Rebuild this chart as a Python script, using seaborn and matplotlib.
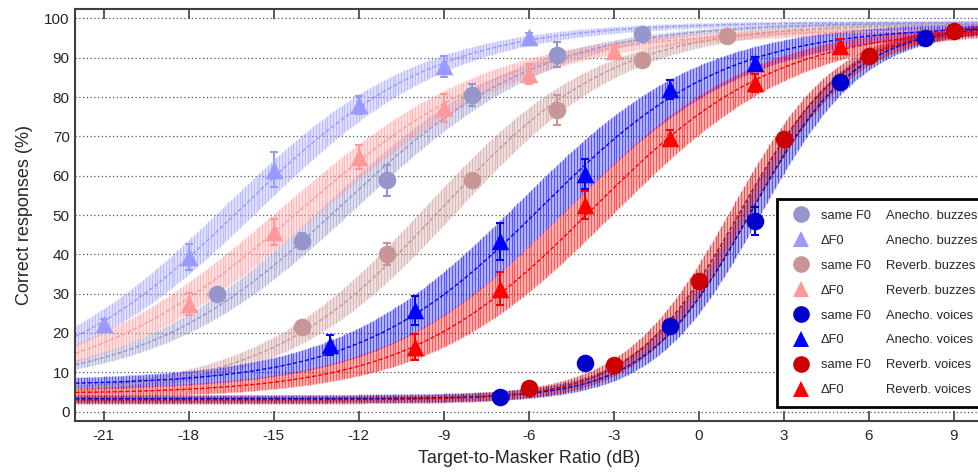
import numpy as np
import pandas as pd
import matplotlib
matplotlib.use('Agg')
import matplotlib.pyplot as plt
import seaborn as sns
from matplotlib.lines import Line2D

sns.set_theme(style='white')
plt.rcParams['font.family'] = ['Liberation Sans', 'DejaVu Sans']
plt.rcParams['axes.unicode_minus'] = False

# ---------------------------------------------------------------
# 조건 (범례 순서)
# ---------------------------------------------------------------
f0_labels = ['same F0', 'ΔF0', 'same F0', 'ΔF0', 'same F0', 'ΔF0', 'same F0', 'ΔF0']
cond_labels = ['Anecho. buzzes', 'Anecho. buzzes', 'Reverb. buzzes', 'Reverb. buzzes',
               'Anecho. voices', 'Anecho. voices', 'Reverb. voices', 'Reverb. voices']
colors = ['#9696cc', '#9999ff', '#c89696', '#ff9999',
          '#0000cc', '#0000ff', '#cc0000', '#ff0000']
markers = ['o', '^', 'o', '^', 'o', '^', 'o', '^']

# 측정값 (TMR dB, 정답률 %, 오차)
x_same_ab = [-17, -14, -11, -8, -5, -2]
y_same_ab = [29.9, 43.3, 58.8, 80.6, 90.8, 95.9]
e_same_ab = [1.2, 2.0, 4.0, 2.8, 3.2, 1.0]

x_df0_ab = [-21, -18, -15, -12, -9, -6]
y_df0_ab = [22.3, 39.3, 61.5, 78.0, 87.8, 95.3]
e_df0_ab = [1.2, 3.4, 4.5, 2.2, 2.7, 1.0]

x_same_rb = [-14, -11, -8, -5, -2, 1]
y_same_rb = [21.4, 40.1, 59.0, 76.8, 89.5, 95.6]
e_same_rb = [1.2, 2.8, 1.2, 3.8, 1.2, 1.0]

x_df0_rb = [-18, -15, -12, -9, -6, -3]
y_df0_rb = [27.4, 45.7, 64.8, 77.2, 85.8, 91.7]
e_df0_rb = [2.8, 3.3, 3.0, 3.5, 2.5, 1.5]

x_same_av = [-7, -4, -1, 2, 5, 8]
y_same_av = [3.6, 12.3, 21.7, 48.4, 83.9, 95.1]
e_same_av = [1.0, 1.0, 1.0, 3.6, 1.2, 1.0]

x_df0_av = [-13, -10, -7, -4, -1, 2]
y_df0_av = [17.0, 25.8, 43.3, 60.5, 82.0, 88.6]
e_df0_av = [2.6, 3.7, 4.7, 3.8, 2.4, 1.5]

x_same_rv = [-6, -3, 0, 3, 6, 9]
y_same_rv = [6.0, 11.9, 33.2, 69.2, 90.3, 96.8]
e_same_rv = [1.0, 1.0, 1.0, 1.0, 1.0, 1.0]

x_df0_rv = [-10, -7, -4, -1, 2, 5]
y_df0_rv = [16.5, 31.3, 52.6, 69.7, 83.6, 93.0]
e_df0_rv = [3.3, 4.2, 3.6, 2.0, 2.2, 1.8]

xs_points = [x_same_ab, x_df0_ab, x_same_rb, x_df0_rb, x_same_av, x_df0_av, x_same_rv, x_df0_rv]
ys_points = [y_same_ab, y_df0_ab, y_same_rb, y_df0_rb, y_same_av, y_df0_av, y_same_rv, y_df0_rv]
es_points = [e_same_ab, e_df0_ab, e_same_rb, e_df0_rb, e_same_av, e_df0_av, e_same_rv, e_df0_rv]

# 로지스틱 적합 파라미터 (그림에서 추정)
fit_floor = [6.0, 5.0, 4.5, 5.0, 3.3, 6.7, 3.0, 4.5]
fit_top = [99.0, 99.0, 98.5, 97.0, 98.3, 98.0, 98.0, 98.0]
fit_mid = [-12.6, -16.1, -9.1, -14.1, 1.85, -5.5, 1.44, -3.79]
fit_width = [3.5, 3.4, 3.05, 3.73, 1.85, 3.22, 1.88, 3.28]
# 신뢰대역 (수평 이동 dB, 수직 여유 %)
band_shift = [0.55, 0.6, 0.55, 0.65, 0.3, 0.8, 0.3, 0.75]
band_pad = [0.3, 0.5, 0.6, 0.8, 1.0, 1.3, 1.0, 1.1]


def psychometric(x, floor, top, mid, width):
    return floor + (top - floor) / (1 + np.exp(-(x - mid) / width))


fig = plt.figure(figsize=(9.79, 4.73), dpi=100)
ax = fig.add_axes([75.3 / 979, 52.3 / 473, 906.7 / 979, 411.4 / 473])

tmr = np.arange(-22, 10.001, 0.1)
for i in range(8):
    col = colors[i]
    yc = psychometric(tmr, fit_floor[i], fit_top[i], fit_mid[i], fit_width[i])
    ylo = psychometric(tmr, fit_floor[i], fit_top[i], fit_mid[i] + band_shift[i], fit_width[i]) - band_pad[i]
    yhi = psychometric(tmr, fit_floor[i], fit_top[i], fit_mid[i] - band_shift[i], fit_width[i]) + band_pad[i]
    ax.fill_between(tmr, ylo, yhi, color=col, alpha=0.25, lw=0, zorder=1)
    ax.vlines(tmr, ylo, yhi, color=col, alpha=0.55, lw=0.9, zorder=1.5)
    curve = pd.DataFrame({'tmr': tmr, 'pc': yc})
    sns.lineplot(data=curve, x='tmr', y='pc', color=col, lw=1.0,
                 linestyle=(0, (3, 1.5)), ax=ax, zorder=2)

for i in range(8):
    col = colors[i]
    ax.errorbar(xs_points[i], ys_points[i], yerr=es_points[i], fmt='none',
                ecolor=col, elinewidth=1.5, capsize=3.2, capthick=1.5, zorder=3)
    pts = pd.DataFrame({'tmr': xs_points[i], 'pc': ys_points[i]})
    sns.scatterplot(data=pts, x='tmr', y='pc', color=col, marker=markers[i],
                    s=160, linewidth=0, ax=ax, zorder=4)

ax.set_xlim(-22, 10)
ax.set_ylim(-2.3, 102.3)
ax.set_xticks(np.arange(-21, 10, 3))
ax.set_yticks(np.arange(0, 101, 10))
ax.grid(axis='y', color='#555555', linestyle=(0, (1, 2)), lw=0.9)
ax.grid(axis='x', visible=False)
ax.set_axisbelow(True)
ax.tick_params(axis='x', direction='in', top=True, bottom=True, length=7,
               width=1.2, color='#404040', labelsize=11, pad=6)
ax.tick_params(axis='y', length=0, labelsize=11, pad=4)
for sp in ax.spines.values():
    sp.set_color('#404040')
    sp.set_linewidth(1.5)

ax.set_xlabel('Target-to-Masker Ratio (dB)', fontsize=13, labelpad=5)
ax.set_ylabel('Correct responses (%)', fontsize=13, labelpad=8)

# 범례: 두 열 (F0 / 조건)
handles = [Line2D([], [], linestyle='none', marker=markers[i], color=colors[i],
                  markersize=12, markeredgewidth=0) for i in range(8)]
blanks = [Line2D([], [], linestyle='none') for _ in range(8)]
leg = ax.legend(handles + blanks, f0_labels + cond_labels, ncol=2,
                loc='upper left', bbox_to_anchor=(776.7 / 979, 1 - 199.3 / 473),
                bbox_transform=fig.transFigure, borderaxespad=0,
                fontsize=9.3, frameon=True, fancybox=False, framealpha=1,
                edgecolor='black', borderpad=0.8, handlelength=2.1,
                handletextpad=0.5, columnspacing=-1.4, labelspacing=1.0)
leg.get_frame().set_linewidth(2)
leg.set_zorder(10)

fig.savefig('out.png', dpi=100)
